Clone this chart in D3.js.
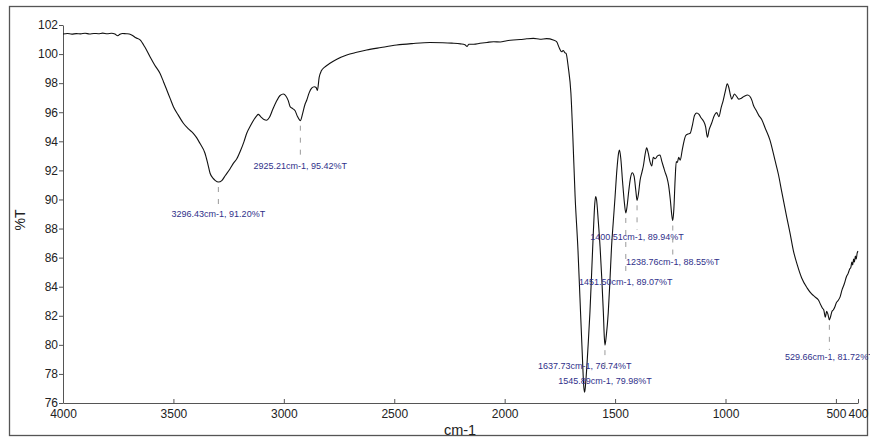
<!DOCTYPE html>
<html>
<head>
<meta charset="utf-8">
<script src="https://cdn.jsdelivr.net/npm/d3@7"></script>
<style>
  html, body { margin: 0; padding: 0; background: #fff; }
  svg { display: block; font-family: Arial, "Liberation Sans", sans-serif; }
</style>
</head>
<body>
<svg id="chart" width="870" height="438"></svg>
<script>
// ===== DATA =====
// FTIR spectrum, [wavenumber cm-1, %T]
const spectrum = [
  [4000,101.38],[3980,101.42],[3960,101.37],[3940,101.41],[3920,101.39],[3900,101.43],[3880,101.38],
  [3860,101.42],[3840,101.40],[3820,101.44],[3800,101.40],[3780,101.43],[3765,101.38],[3752,101.26],
  [3742,101.37],[3730,101.42],[3715,101.40],[3700,101.38],[3685,101.28],[3670,101.12],[3651,100.97],
  [3630,100.5],[3606,99.82],[3585,99.25],[3561,98.68],[3545,98.1],[3530,97.53],[3515,96.95],[3500,96.38],
  [3478,95.8],[3455,95.24],[3432,94.85],[3410,94.55],[3395,94.25],[3380,93.86],[3357,93.18],[3345,92.5],
  [3334,91.8],[3320,91.45],[3310,91.3],[3296,91.2],[3281,91.3],[3265,91.65],[3244,92.1],[3228,92.5],
  [3213,92.8],[3195,93.4],[3180,94.0],[3168,94.55],[3150,95.1],[3135,95.5],[3123,95.75],[3116,95.85],
  [3105,95.7],[3090,95.5],[3078,95.45],[3065,95.65],[3050,96.2],[3035,96.7],[3017,97.15],[3002,97.25],
  [2990,97.1],[2980,96.8],[2972,96.4],[2960,96.25],[2949,96.1],[2938,95.7],[2925,95.42],[2915,95.9],
  [2905,96.5],[2896,96.84],[2885,97.35],[2874,97.65],[2862,97.75],[2854,97.7],[2848,97.5],[2840,98.4],
  [2830,98.85],[2815,99.1],[2791,99.37],[2760,99.65],[2715,99.94],[2670,100.12],[2625,100.28],
  [2560,100.45],[2489,100.62],[2420,100.72],[2338,100.8],[2280,100.78],[2240,100.75],[2200,100.7],
  [2180,100.64],[2170,100.52],[2162,100.68],[2140,100.68],[2112,100.74],[2080,100.8],[2050,100.85],
  [2020,100.83],[1990,100.92],[1961,100.97],[1930,101.0],[1900,101.05],[1870,101.08],[1840,101.02],
  [1810,101.06],[1780,100.97],[1765,100.85],[1752,100.4],[1742,100.16],[1735,100.25],[1728,100.1],
  [1722,100.05],[1712,99.1],[1700,97.3],[1692,94.6],[1681,90.2],[1668,86.5],[1659,83.2],[1650,79.9],
  [1641,77.0],[1637.73,76.74],[1632,77.6],[1622,80.0],[1614,82.2],[1606,85.0],[1598,87.9],[1592,89.7],
  [1588,90.2],[1584,90.0],[1576,88.5],[1568,86.75],[1560,84.5],[1553,82.2],[1549,80.6],[1545.89,79.98],
  [1540,80.6],[1531,82.2],[1523,84.5],[1516,86.75],[1508,88.5],[1500,90.2],[1492,92.0],[1484,93.2],
  [1480,93.4],[1474,92.8],[1466,91.2],[1458,89.8],[1451.5,89.07],[1446,89.5],[1438,90.6],[1430,91.5],
  [1422,91.84],[1414,91.6],[1406,90.6],[1400.51,89.94],[1394,90.4],[1387,91.3],[1378,91.9],[1372,92.3],
  [1364,93.1],[1357,93.55],[1350,93.2],[1342,92.6],[1334,92.3],[1327,92.9],[1318,92.8],[1308,93.0],
  [1297,93.06],[1288,92.6],[1280,92.2],[1274,91.9],[1265,91.5],[1258,91.0],[1250,90.0],[1243,88.9],
  [1238.76,88.55],[1234,89.3],[1228,91.4],[1223,92.6],[1218,92.55],[1212,92.9],[1205,92.7],[1196,93.4],
  [1188,94.0],[1180,94.4],[1170,94.5],[1160,94.55],[1150,95.1],[1140,95.8],[1130,95.95],[1120,95.85],
  [1110,95.6],[1100,95.4],[1090,95.0],[1082,94.28],[1074,94.8],[1063,95.24],[1050,95.8],[1040,95.97],
  [1030,95.7],[1020,96.3],[1010,96.84],[1000,97.5],[992,97.95],[985,97.7],[978,97.2],[972,96.9],
  [965,97.1],[960,97.25],[950,97.1],[940,96.9],[930,96.95],[915,97.1],[900,97.19],[890,97.1],[880,96.8],
  [874,96.5],[860,96.1],[850,95.8],[836,95.5],[820,94.9],[799,94.1],[776,92.7],[760,91.7],[745,90.5],
  [723,88.8],[708,87.7],[693,86.5],[675,85.5],[655,84.6],[630,83.9],[610,83.5],[595,83.3],[580,83.1],
  [570,82.8],[560,82.5],[555,82.4],[548,81.9],[542,82.3],[536,82.1],[529.66,81.72],[525,81.9],[518,82.3],
  [512,82.4],[505,82.6],[498,82.9],[490,83.05],[481,83.3],[472,83.8],[462,84.2],[452,84.7],[445,84.9],
  [438,85.2],[432,85.35],[428,85.7],[424,85.5],[420,85.9],[416,85.7],[412,86.1],[408,85.9],[404,86.3],
  [400,86.45]
];

// labelled peaks
const peakWavenumbers = [3296.43, 2925.21, 1637.73, 1545.89, 1400.51, 1238.76, 1451.50, 529.66];
const peakValues      = [91.20, 95.42, 76.74, 79.98, 89.94, 88.55, 89.07, 81.72];

const xTicks = [4000, 3500, 3000, 2500, 2000, 1500, 1000, 500, 400];
const yTicks = d3.range(76, 103, 2);

// ===== LAYOUT =====
// vertical offset of each peak label baseline from its peak (px)
const labelDy = [34.5, 48.3, -23.3, 38.8, 39.6, 44.4, 72, 40.1];

const svg = d3.select("#chart");
const x = d3.scaleLinear().domain([4000, 400]).range([63, 858]);
const y = d3.scaleLinear().domain([76, 102]).range([403, 25]);

// outer frame
svg.append("rect")
  .attr("x", 9.5).attr("y", 6.5).attr("width", 858).attr("height", 429)
  .attr("fill", "none").attr("stroke", "#555").attr("stroke-width", 1.3);

// ===== AXES =====
const gy = svg.append("g").attr("transform", "translate(63,0)")
  .call(d3.axisLeft(y).tickValues(yTicks).tickSize(4).tickSizeOuter(0).tickPadding(1));
const gx = svg.append("g").attr("transform", "translate(0,403)")
  .call(d3.axisBottom(x).tickValues(xTicks).tickFormat(d3.format("d"))
    .tickSizeInner(-4).tickSizeOuter(0).tickPadding(6));

[gx, gy].forEach(g => {
  g.select(".domain").attr("stroke", "#555");
  g.selectAll(".tick line").attr("stroke", "#555");
  g.selectAll("text").attr("font-size", 12).attr("fill", "#222")
    .attr("font-family", "Arial, 'Liberation Sans', sans-serif");
});

svg.append("text").attr("x", 460).attr("y", 435).attr("text-anchor", "middle")
  .attr("font-size", 14.5).attr("fill", "#222").text("cm-1");
svg.append("text").attr("transform", "translate(25,220) rotate(-90)").attr("text-anchor", "middle")
  .attr("font-size", 14).attr("fill", "#222").text("%T");

// ===== SPECTRUM =====
const line = d3.line().x(d => x(d[0])).y(d => y(d[1])).curve(d3.curveMonotoneX);
svg.append("path").datum(spectrum)
  .attr("d", line).attr("fill", "none").attr("stroke", "#111").attr("stroke-width", 1.1);

// ===== PEAK LABELS =====
const ann = svg.append("g");
peakWavenumbers.forEach((w, i) => {
  const px = x(w), py = y(peakValues[i]), dy = labelDy[i];
  if (dy > 0) {
    ann.append("line")
      .attr("x1", px).attr("x2", px)
      .attr("y1", py + 5).attr("y2", py + dy - 10)
      .attr("stroke", "#9a9a9a").attr("stroke-width", 1).attr("stroke-dasharray", "5,7");
  }
  ann.append("text")
    .attr("x", px).attr("y", py + dy).attr("text-anchor", "middle")
    .attr("font-size", 9).attr("fill", "#30308a")
    .text(`${w.toFixed(2)}cm-1, ${peakValues[i].toFixed(2)}%T`);
});
</script>
</body>
</html>
